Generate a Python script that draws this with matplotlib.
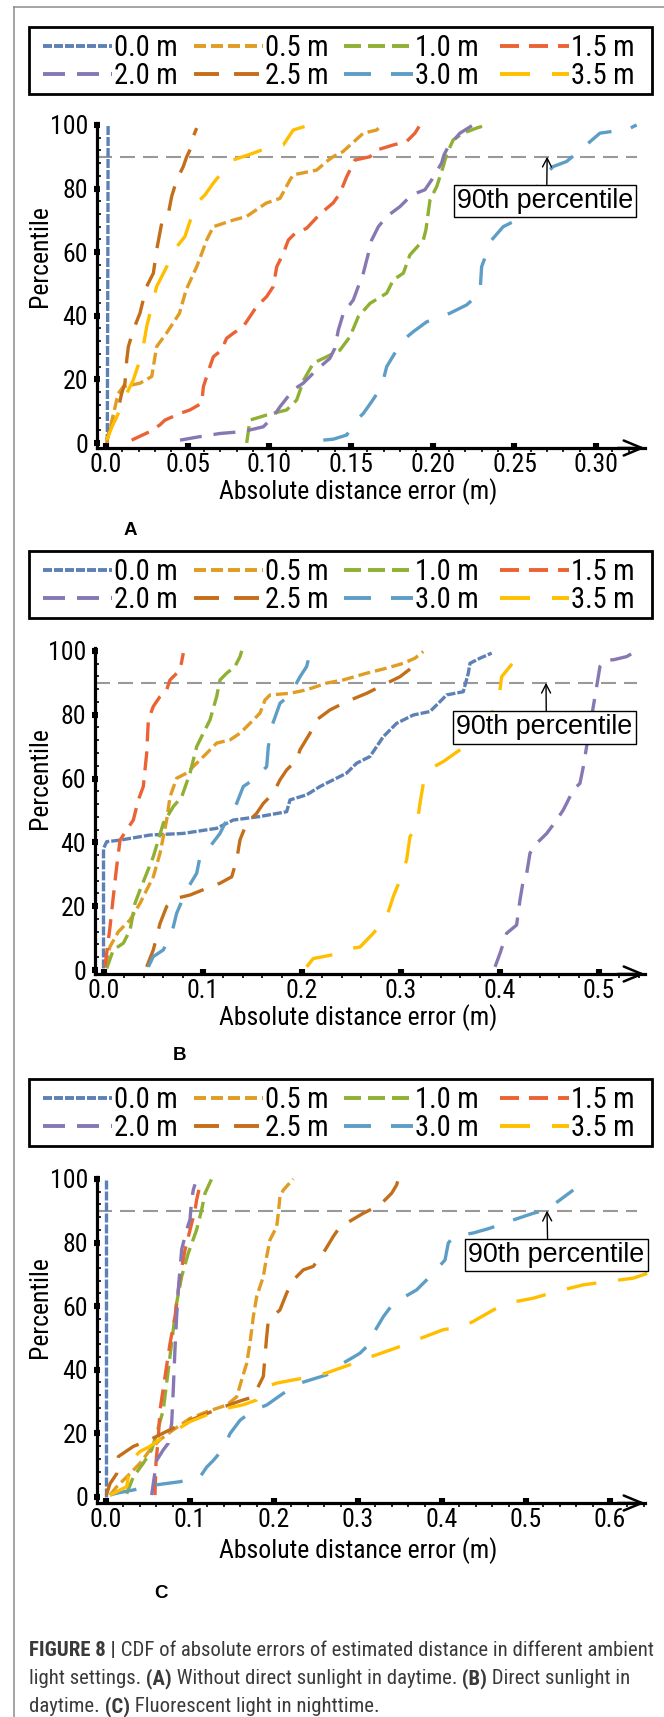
import os

import matplotlib
matplotlib.use("Agg")
import matplotlib.pyplot as plt
from matplotlib import font_manager
from matplotlib.patches import Rectangle
from matplotlib.ticker import MultipleLocator

W, H, DPI = 664, 1717, 100
PX = 72 / DPI  # points per pixel


def pick_narrow():
    candidates = [("Liberation Sans Narrow", "normal"), ("Arial Narrow", "normal"),
                  ("Noto Sans Condensed", "normal"), ("Noto Sans", "condensed"),
                  ("Roboto Condensed", "normal"), ("Open Sans Condensed", "normal"),
                  ("Open Sans", "condensed")]
    for fam, stretch in candidates:
        try:
            path = font_manager.findfont(
                font_manager.FontProperties(family=fam, stretch=stretch),
                fallback_to_default=False)
        except ValueError:
            continue
        base = os.path.basename(path).lower()
        if ("narrow" in base or "condensed" in base) and "extra" not in base and "semi" not in base:
            return fam, stretch
    return "Liberation Sans", "normal"


NARROW, NARROW_STRETCH = pick_narrow()
PLAIN = "Liberation Sans"

plt.rcParams["font.family"] = [NARROW, "DejaVu Sans"]
plt.rcParams["font.stretch"] = NARROW_STRETCH
plt.rcParams["lines.scale_dashes"] = False

# ---- series ----
series_labels = ["0.0 m", "0.5 m", "1.0 m", "1.5 m", "2.0 m", "2.5 m", "3.0 m", "3.5 m"]
series_colors = ["#5E81B5", "#E19C24", "#8FB032", "#EB6235",
                 "#8778B3", "#C56E1A", "#5D9EC7", "#FFBF00"]
# dash on/off lengths in pixels, growing with distance
series_dashes = [(9, 2), (12, 5), (17, 7), (19, 10), (22, 12), (25, 15), (27, 20), (30, 22)]

# ---- (A) without direct sunlight in daytime ----
a00_x = [0.0008, 0.0010, 0.0012, 0.0013]
a00_y = [0, 35, 70, 100]
a05_x = [0.0004, 0.0075, 0.0106, 0.0208, 0.0280, 0.0290, 0.0310, 0.0370, 0.0450, 0.0490,
         0.0555, 0.0586, 0.0616, 0.0657, 0.0780, 0.0860, 0.0980, 0.1065, 0.1126, 0.1146,
         0.1290, 0.1350, 0.1390, 0.1450, 0.1530, 0.1575, 0.1657, 0.1687]
a05_y = [0, 15.6, 17.7, 18.8, 20.9, 24.0, 30.3, 34.5, 40.8, 48.1,
         55.4, 59.6, 63.8, 68.0, 70.1, 71.2, 75.4, 76.9, 82.7, 84.3,
         85.8, 88.5, 90.0, 91.6, 95.3, 97.4, 98.4, 100]
a10_x = [0.0861, 0.0881, 0.0983, 0.1106, 0.1167, 0.1210, 0.1269, 0.1350, 0.1432, 0.1493,
         0.1544, 0.1616, 0.1718, 0.1759, 0.1820, 0.1860, 0.1942, 0.1958, 0.1983, 0.2024,
         0.2064, 0.2084, 0.2125, 0.2186, 0.2268, 0.2329]
a10_y = [0, 7.2, 8.8, 10.4, 13.5, 19.8, 25.1, 27.1, 29.2, 33.4,
         39.7, 43.9, 47.1, 51.3, 53.4, 59.1, 63.8, 67.0, 76.4, 80.6,
         86.9, 90.6, 95.3, 97.4, 99.0, 100]
a15_x = [0.0157, 0.0269, 0.0330, 0.0361, 0.0453, 0.0514, 0.0586, 0.0596, 0.0636, 0.0657,
         0.0707, 0.0738, 0.0779, 0.0840, 0.0922, 0.0983, 0.1024, 0.1045, 0.1085, 0.1116,
         0.1157, 0.1228, 0.1310, 0.1391, 0.1432, 0.1473, 0.1524, 0.1554, 0.1616, 0.1657,
         0.1759, 0.1840, 0.1891, 0.1922]
a15_y = [0.9, 3.6, 5.7, 7.2, 9.3, 10.4, 12.5, 17.7, 24.0, 27.1,
         29.2, 32.9, 34.5, 36.6, 42.9, 46.0, 49.2, 55.4, 59.6, 63.8,
         65.9, 67.5, 72.0, 75.5, 78.5, 83.7, 89.0, 89.3, 90.0, 92.1,
         93.7, 94.8, 97.4, 100]
a20_x = [0.0453, 0.0575, 0.0698, 0.0840, 0.0963, 0.1024, 0.1065, 0.1146, 0.1207, 0.1289,
         0.1370, 0.1401, 0.1422, 0.1453, 0.1514, 0.1544, 0.1575, 0.1606, 0.1626, 0.1667,
         0.1718, 0.1799, 0.1871, 0.1952, 0.1993, 0.2054, 0.2069, 0.2095, 0.2166, 0.2248]
a20_y = [0.9, 2.0, 3.0, 3.6, 5.1, 8.3, 11.4, 16.7, 18.8, 23.0,
         26.6, 29.8, 35.5, 40.8, 45.0, 49.2, 53.4, 59.6, 63.8, 68.0,
         71.2, 74.3, 78.0, 79.6, 82.7, 88.0, 90.6, 93.2, 97.4, 100]
a25_x = [0.0004, 0.0024, 0.0065, 0.0096, 0.0116, 0.0127, 0.0137, 0.0167, 0.0208, 0.0228,
         0.0249, 0.0290, 0.0310, 0.0341, 0.0382, 0.0402, 0.0433, 0.0473, 0.0494, 0.0524,
         0.0534, 0.0555]
a25_y = [0.9, 4.1, 8.3, 15.6, 18.8, 26.1, 30.3, 35.5, 40.8, 45.0,
         49.2, 53.4, 60.7, 69.1, 72.2, 77.5, 82.7, 86.9, 90.0, 93.2,
         96.3, 99.0]
a30_x = [0.1330, 0.1391, 0.1473, 0.1534, 0.1575, 0.1626, 0.1687, 0.1718, 0.1779, 0.1820,
         0.1881, 0.1963, 0.2105, 0.2207, 0.2289, 0.2299, 0.2329, 0.2360, 0.2431, 0.2513,
         0.2574, 0.2625, 0.2656, 0.2737, 0.2819, 0.2880, 0.2962, 0.3023, 0.3105, 0.3186,
         0.3248]
a30_y = [0.9, 1.2, 2.5, 7.2, 9.3, 13.0, 17.7, 24.0, 29.2, 32.4,
         35.0, 38.1, 40.8, 43.4, 47.1, 55.4, 59.6, 63.8, 68.0, 70.1,
         73.3, 78.5, 82.7, 86.9, 88.5, 91.1, 94.7, 97.4, 98.0, 98.4,
         100]
a35_x = [0.0004, 0.0045, 0.0086, 0.0127, 0.0167, 0.0208, 0.0228, 0.0249, 0.0290, 0.0310,
         0.0341, 0.0392, 0.0433, 0.0483, 0.0524, 0.0575, 0.0606, 0.0657, 0.0738, 0.0779,
         0.0901, 0.0983, 0.1085, 0.1146, 0.1248]
a35_y = [0.9, 6.2, 10.4, 15.6, 19.8, 26.1, 30.3, 36.6, 45.0, 49.2,
         52.3, 57.5, 61.7, 64.9, 71.2, 76.4, 78.0, 81.7, 86.9, 89.0,
         91.1, 92.7, 93.7, 98.4, 100]

# ---- (B) direct sunlight in daytime ----
b00_x = [-0.0005, -0.0005, 0.0027, 0.0162, 0.0465, 0.0801, 0.1138, 0.1306, 0.1576, 0.1845,
         0.1879, 0.2047, 0.2182, 0.2451, 0.2552, 0.2687, 0.2821, 0.2956, 0.3124, 0.3293,
         0.3394, 0.3461, 0.3629, 0.3680, 0.3697, 0.3798, 0.3916]
b00_y = [0.5, 38.1, 40.2, 40.7, 42.3, 42.8, 44.4, 47.0, 48.1, 49.6,
         53.3, 54.9, 57.5, 61.7, 64.8, 66.9, 73.1, 77.3, 79.9, 81.0,
         84.1, 86.2, 87.2, 93.0, 96.1, 97.7, 99.3]
b05_x = [0.0010, 0.0060, 0.0145, 0.0263, 0.0364, 0.0431, 0.0498, 0.0566, 0.0633, 0.0667,
         0.0734, 0.0835, 0.0936, 0.1037, 0.1138, 0.1273, 0.1374, 0.1475, 0.1576, 0.1626,
         0.1677, 0.1879, 0.2047, 0.2249, 0.2417, 0.2653, 0.2856, 0.3024, 0.3141, 0.3225]
b05_y = [1.0, 7.3, 12.0, 15.7, 20.9, 25.1, 29.2, 36.6, 47.0, 54.3,
         60.1, 61.7, 64.8, 67.9, 71.1, 72.1, 74.2, 77.3, 80.5, 84.6,
         86.2, 86.7, 87.8, 89.9, 90.9, 93.0, 94.6, 96.1, 97.7, 99.8]
b10_x = [0.0027, 0.0094, 0.0195, 0.0263, 0.0313, 0.0364, 0.0431, 0.0498, 0.0549, 0.0599,
         0.0700, 0.0785, 0.0869, 0.0936, 0.1003, 0.1071, 0.1138, 0.1172, 0.1239, 0.1323,
         0.1374, 0.1391]
b10_y = [0.5, 6.3, 8.4, 12.5, 20.9, 25.1, 30.3, 35.5, 40.8, 46.0,
         51.2, 54.3, 61.7, 70.0, 74.2, 78.4, 85.7, 90.9, 93.0, 95.1,
         98.2, 100]
b15_x = [0.0010, 0.0027, 0.0061, 0.0094, 0.0128, 0.0162, 0.0229, 0.0296, 0.0347, 0.0397,
         0.0431, 0.0448, 0.0498, 0.0566, 0.0633, 0.0667, 0.0768, 0.0801]
b15_y = [1.0, 5.2, 13.6, 23.0, 32.4, 40.7, 43.9, 47.0, 53.3, 57.5,
         67.9, 78.4, 82.6, 85.7, 87.8, 90.9, 94.0, 99.3]
b20_x = [0.3950, 0.4000, 0.4067, 0.4168, 0.4202, 0.4236, 0.4270, 0.4303, 0.4371, 0.4472,
         0.4573, 0.4640, 0.4673, 0.4740, 0.4808, 0.4842, 0.4875, 0.4909, 0.4943, 0.4977,
         0.5010, 0.5077, 0.5145, 0.5279, 0.5380]
b20_y = [1.0, 5.2, 11.5, 14.1, 21.9, 28.2, 30.3, 36.6, 39.7, 42.8,
         47.0, 50.2, 52.2, 56.4, 58.5, 63.7, 70.0, 76.3, 82.6, 88.9,
         95.1, 97.2, 97.2, 98.2, 100]
b25_x = [0.0431, 0.0498, 0.0566, 0.0633, 0.0734, 0.0869, 0.1037, 0.1172, 0.1290, 0.1340,
         0.1374, 0.1441, 0.1542, 0.1609, 0.1710, 0.1778, 0.1845, 0.1946, 0.1980, 0.2081,
         0.2148, 0.2283, 0.2451, 0.2653, 0.2788, 0.2990, 0.3124]
b25_y = [1.0, 6.3, 14.6, 19.9, 22.5, 23.5, 25.6, 27.2, 29.2, 34.5,
         40.8, 46.0, 49.1, 52.2, 55.4, 59.6, 62.7, 65.8, 69.0, 74.2,
         78.4, 81.5, 84.1, 86.7, 88.8, 91.9, 95.1]
b30_x = [0.0448, 0.0498, 0.0599, 0.0684, 0.0734, 0.0835, 0.0936, 0.0970, 0.1071, 0.1172,
         0.1239, 0.1340, 0.1407, 0.1508, 0.1643, 0.1660, 0.1694, 0.1778, 0.1879, 0.1980,
         0.2047, 0.2081]
b30_y = [1.0, 4.2, 6.3, 11.5, 17.8, 25.1, 30.3, 35.5, 38.7, 42.8,
         47.0, 52.2, 57.5, 59.6, 63.7, 70.0, 76.3, 83.6, 86.2, 91.9,
         95.1, 99.3]
b35_x = [0.2047, 0.2114, 0.2283, 0.2485, 0.2586, 0.2720, 0.2856, 0.2922, 0.2990, 0.3057,
         0.3091, 0.3158, 0.3192, 0.3226, 0.3333, 0.3427, 0.3596, 0.3697, 0.3798, 0.3916,
         0.3983, 0.4017, 0.4101, 0.4202]
b35_y = [1.0, 3.6, 4.6, 6.7, 7.2, 11.5, 16.7, 23.0, 28.2, 34.5,
         41.8, 44.9, 52.2, 58.5, 63.7, 65.3, 69.0, 71.0, 75.2, 80.5,
         83.6, 91.9, 95.1, 99.3]

# ---- (C) fluorescent light in nighttime ----
c00_x = [0.0, 0.0, 0.0]
c00_y = [0, 50, 100]
c05_x = [0.0048, 0.0127, 0.0246, 0.0405, 0.0524, 0.0643, 0.0801, 0.1000, 0.1199, 0.1437,
         0.1556, 0.1615, 0.1675, 0.1714, 0.1754, 0.1794, 0.1873, 0.1913, 0.1952, 0.2032,
         0.2052, 0.2071, 0.2111, 0.2230]
c05_y = [0.6, 3.2, 6.3, 10.6, 14.8, 18.0, 21.1, 24.7, 26.8, 28.9,
         31.5, 36.8, 42.0, 48.3, 56.7, 63.0, 69.3, 75.6, 80.8, 85.0,
         89.2, 94.4, 96.5, 100]
c10_x = [0.0246, 0.0325, 0.0444, 0.0544, 0.0603, 0.0682, 0.0722, 0.0762, 0.0801, 0.0841,
         0.0901, 0.0980, 0.1079, 0.1139, 0.1179, 0.1258]
c10_y = [1.0, 6.3, 10.6, 14.8, 20.0, 27.3, 35.8, 44.2, 52.6, 61.0,
         69.3, 76.7, 84.0, 90.3, 95.5, 100]
c15_x = [0.0583, 0.0595, 0.0623, 0.0643, 0.0702, 0.0762, 0.0821, 0.0881, 0.0940, 0.1020,
         0.1060, 0.1079, 0.1119, 0.1130]
c15_y = [0.6, 10.6, 18.9, 27.3, 37.7, 48.2, 56.6, 69.2, 77.6, 86.0,
         90.2, 93.4, 98.1, 99.2]
c20_x = [0.0544, 0.0563, 0.0603, 0.0682, 0.0742, 0.0782, 0.0801, 0.0821, 0.0841, 0.0861,
         0.0901, 0.0960, 0.1000, 0.1020, 0.1040, 0.1060]
c20_y = [0.6, 4.2, 11.5, 14.8, 16.9, 23.2, 33.7, 46.3, 56.7, 65.2,
         77.8, 84.0, 87.2, 93.5, 96.6, 98.3]
c25_x = [0.0004, 0.0048, 0.0127, 0.0147, 0.0325, 0.0524, 0.0682, 0.0920, 0.1159, 0.1357,
         0.1575, 0.1754, 0.1833, 0.1873, 0.1893, 0.1913, 0.1933, 0.2071, 0.2151, 0.2230,
         0.2349, 0.2468, 0.2587, 0.2706, 0.2786, 0.2865, 0.3063, 0.3262, 0.3401, 0.3460,
         0.3480]
c25_y = [0.6, 4.2, 7.3, 12.7, 15.9, 18.0, 20.1, 23.2, 25.8, 27.9,
         30.0, 31.5, 35.8, 37.9, 44.2, 50.4, 55.6, 58.8, 64.1, 68.2,
         71.4, 72.5, 76.7, 81.9, 85.0, 86.1, 89.2, 91.8, 95.5, 98.1,
         100]
c30_x = [0.0048, 0.0127, 0.0325, 0.0563, 0.0881, 0.1119, 0.1199, 0.1278, 0.1397, 0.1476,
         0.1595, 0.1754, 0.1913, 0.2111, 0.2310, 0.2627, 0.2786, 0.3024, 0.3143, 0.3183,
         0.3302, 0.3421, 0.3698, 0.3857, 0.4036, 0.4075, 0.4135, 0.4373, 0.4571, 0.4849,
         0.5087, 0.5246, 0.5405, 0.5563]
c30_y = [0.6, 1.2, 2.2, 3.7, 4.8, 6.3, 9.4, 11.5, 15.2, 19.9,
         24.1, 27.3, 28.9, 32.6, 35.8, 38.4, 41.5, 45.2, 48.3, 51.4,
         56.7, 60.9, 65.1, 69.3, 74.5, 79.8, 81.9, 83.0, 84.5, 87.1,
         89.2, 90.3, 93.4, 96.5]
c35_x = [0.0048, 0.0167, 0.0246, 0.0266, 0.0345, 0.0405, 0.0524, 0.0682, 0.0841, 0.1000,
         0.1199, 0.1437, 0.1635, 0.1794, 0.1913, 0.2032, 0.2230, 0.2468, 0.2627, 0.2905,
         0.3103, 0.3222, 0.3500, 0.3698, 0.4016, 0.4254, 0.4373, 0.4611, 0.4770, 0.5087,
         0.5365, 0.5683, 0.5960, 0.6278, 0.6456]
c35_y = [0.6, 2.2, 3.2, 6.3, 12.7, 14.3, 15.9, 19.0, 21.1, 23.7,
         25.8, 27.9, 29.0, 30.5, 34.7, 35.8, 36.8, 37.9, 39.0, 41.6,
         43.7, 44.7, 47.3, 49.4, 52.6, 53.6, 55.2, 58.8, 60.9, 62.5,
         64.6, 66.7, 67.7, 68.8, 70.4]

a_xticks = [0.0, 0.05, 0.10, 0.15, 0.20, 0.25, 0.30]
a_xticklabels = ["0.0", "0.05", "0.10", "0.15", "0.20", "0.25", "0.30"]
b_xticks = [0.0, 0.1, 0.2, 0.3, 0.4, 0.5]
b_xticklabels = ["0.0", "0.1", "0.2", "0.3", "0.4", "0.5"]
c_xticks = [0.0, 0.1, 0.2, 0.3, 0.4, 0.5, 0.6]
c_xticklabels = ["0.0", "0.1", "0.2", "0.3", "0.4", "0.5", "0.6"]
yticks = [0, 20, 40, 60, 80, 100]
percentile_level = 90

panels = [
    dict(curves=[(a00_x, a00_y), (a05_x, a05_y), (a10_x, a10_y), (a15_x, a15_y),
                 (a20_x, a20_y), (a25_x, a25_y), (a30_x, a30_y), (a35_x, a35_y)],
         xticks=a_xticks, xticklabels=a_xticklabels, minor=0.01,
         rect=(97, 123, 645, 448), xlim=(-0.0055, 0.3299), ylim=(-1.57, 100.6),
         note_x=0.27, note_text_x=0.2687, note_rel=0.51,
         legend_top=27, letter="A", letter_pos=(130, 530), xlabel_y=492, ylabel_y=256),
    dict(curves=[(b00_x, b00_y), (b05_x, b05_y), (b10_x, b10_y), (b15_x, b15_y),
                 (b20_x, b20_y), (b25_x, b25_y), (b30_x, b30_y), (b35_x, b35_y)],
         xticks=b_xticks, xticklabels=b_xticklabels, minor=0.02,
         rect=(95, 648, 645, 974), xlim=(-0.0091, 0.5465), ylim=(-1.25, 100.9),
         note_x=0.4465, note_text_x=0.445, note_rel=0.51,
         legend_top=551, letter="B", letter_pos=(180, 1055), xlabel_y=1018, ylabel_y=778),
    dict(curves=[(c00_x, c00_y), (c05_x, c05_y), (c10_x, c10_y), (c15_x, c15_y),
                 (c20_x, c20_y), (c25_x, c25_y), (c30_x, c30_y), (c35_x, c35_y)],
         xticks=c_xticks, xticklabels=c_xticklabels, minor=0.02,
         rect=(97, 1177, 645, 1503), xlim=(-0.0107, 0.6417), ylim=(-1.89, 100.6),
         note_x=0.525, note_text_x=0.5363, note_rel=0.45,
         legend_top=1079, letter="C", letter_pos=(161, 1593), xlabel_y=1551, ylabel_y=1307),
]

caption_lines = [
    [("FIGURE 8 |", "bold"), (" CDF of absolute errors of estimated distance in different ambient", "normal")],
    [("light settings.", "normal"), (" (A)", "bold"), (" Without direct sunlight in daytime.", "normal"),
     (" (B)", "bold"), (" Direct sunlight in", "normal")],
    [("daytime.", "normal"), (" (C)", "bold"), (" Fluorescent light in nighttime.", "normal")],
]


def dash_pts(d):
    return (d[0] * PX, d[1] * PX)


def add_px_axes(fig, left, top, right, bottom):
    return fig.add_axes([left / W, 1 - bottom / H, (right - left) / W, (bottom - top) / H])


fig = plt.figure(figsize=(W / DPI, H / DPI), dpi=DPI, facecolor="white")
renderer = fig.canvas.get_renderer()

# overlay in pixel units for the frame, legends, labels and caption
ov = fig.add_axes([0, 0, 1, 1], zorder=0)
ov.set_xlim(0, W)
ov.set_ylim(H, 0)
ov.axis("off")


def text_width(s, size, **kw):
    t = ov.text(0, 0, s, fontsize=size, **kw)
    w = t.get_window_extent(renderer).width
    t.remove()
    return w


def fit_size(s, target_px, **kw):
    return 20 * target_px / text_width(s, 20, **kw)


# sizes sit between a width fit and the taller glyphs of the printed figure
TICK_FS = max(fit_size("100", 37), 18.5)
LABEL_FS = max(fit_size("Absolute distance error (m)", 276), 18.5)
LEGEND_FS = max(fit_size("0.0 m", 64), 19.5)
NOTE_FS = fit_size("90th percentile", 176, fontfamily=PLAIN, fontstretch="normal")
CAPTION_FS = 20 * 623 / sum(text_width(s, 20, fontweight=w) for s, w in caption_lines[0])

ov.plot([14, 14], [7, H], color="#8c8c8c", lw=1.1)
ov.plot([14, W], [7, 7], color="#8c8c8c", lw=1.1)

LEG_COLS = [43, 194, 344, 500]
LEG_ROWS = [19, 47]


def draw_legend(top):
    ov.add_patch(Rectangle((29, top), 623, 67, fill=False, ec="black", lw=2.0))
    cap = 0.72 * LEGEND_FS / PX
    for i, (lab, col, dash) in enumerate(zip(series_labels, series_colors, series_dashes)):
        row, c = divmod(i, 4)
        x0 = LEG_COLS[c]
        y = top + LEG_ROWS[row]
        ov.plot([x0, x0 + 69], [y, y], color=col, lw=2.8, dashes=dash_pts(dash),
                dash_capstyle="butt", solid_capstyle="butt")
        ov.text(x0 + 71, y + cap / 2, lab, fontsize=LEGEND_FS, ha="left", va="baseline")


for p in panels:
    ax = add_px_axes(fig, *p["rect"])
    ax.set_zorder(1)
    ax.patch.set_visible(False)
    ax.set_xlim(*p["xlim"])
    ax.set_ylim(*p["ylim"])

    ax.spines[["top", "right"]].set_visible(False)
    for side in ("left", "bottom"):
        ax.spines[side].set_linewidth(2.3)

    ax.set_xticks(p["xticks"])
    ax.set_xticklabels(p["xticklabels"])
    ax.xaxis.set_minor_locator(MultipleLocator(p["minor"]))
    ax.set_yticks(yticks)
    ax.yaxis.set_minor_locator(MultipleLocator(4))
    ax.tick_params(axis="x", which="major", direction="in", length=3.8, width=4.4,
                   pad=3.5, labelsize=TICK_FS)
    ax.tick_params(axis="x", which="minor", direction="out", length=3, width=1.2)
    ax.tick_params(axis="y", which="major", direction="inout", length=5, width=4.4,
                   pad=4, labelsize=TICK_FS)
    ax.tick_params(axis="y", which="minor", direction="in", length=3, width=1.2)

    ax.annotate("", xy=(1.0, 0), xycoords="axes fraction", xytext=(0.95, 0),
                arrowprops=dict(arrowstyle="->,head_length=0.65,head_width=0.27",
                                lw=1.8, color="black", shrinkA=0, shrinkB=0,
                                mutation_scale=20),
                annotation_clip=False)

    ax.axhline(percentile_level, xmin=0, xmax=0.985, color="#999999", lw=1.5,
               dashes=dash_pts((15, 8)), zorder=1)

    for (xs, ys), col, dash in zip(p["curves"], series_colors, series_dashes):
        ax.plot(xs, ys, color=col, lw=2.4, dashes=dash_pts(dash),
                dash_capstyle="butt", clip_on=False, zorder=3)

    ax.annotate("90th percentile", xy=(p["note_x"], percentile_level),
                xytext=(p["note_text_x"], 76), textcoords="data",
                ha="center", va="center", fontsize=NOTE_FS, fontfamily=PLAIN,
                fontstretch="normal",
                bbox=dict(boxstyle="square,pad=0.12", fc="white", ec="black", lw=1.0),
                arrowprops=dict(arrowstyle="->,head_length=0.35,head_width=0.18",
                                color="black", lw=1.0, shrinkA=0, shrinkB=0,
                                mutation_scale=18, relpos=(p["note_rel"], 1.0)),
                zorder=6, annotation_clip=False)

    draw_legend(p["legend_top"])
    ov.text(358, p["xlabel_y"], "Absolute distance error (m)", fontsize=LABEL_FS,
            ha="center", va="center")
    ov.text(40, p["ylabel_y"], "Percentile", fontsize=LABEL_FS, rotation=90,
            ha="center", va="center")
    ov.text(*p["letter_pos"], p["letter"], fontfamily=PLAIN, fontstretch="normal",
            fontweight="bold", fontsize=13.5, ha="center", va="center")

# caption, built run by run so bold and regular pieces sit on one line
caption_baselines = [1656, 1684, 1712]
for runs, base in zip(caption_lines, caption_baselines):
    x = 29
    for s, weight in runs:
        t = ov.text(x, base, s, fontsize=CAPTION_FS, fontweight=weight, color="#3a3a3a",
                    ha="left", va="baseline")
        x += t.get_window_extent(renderer).width

fig.savefig("out.png", dpi=DPI, facecolor="white")
